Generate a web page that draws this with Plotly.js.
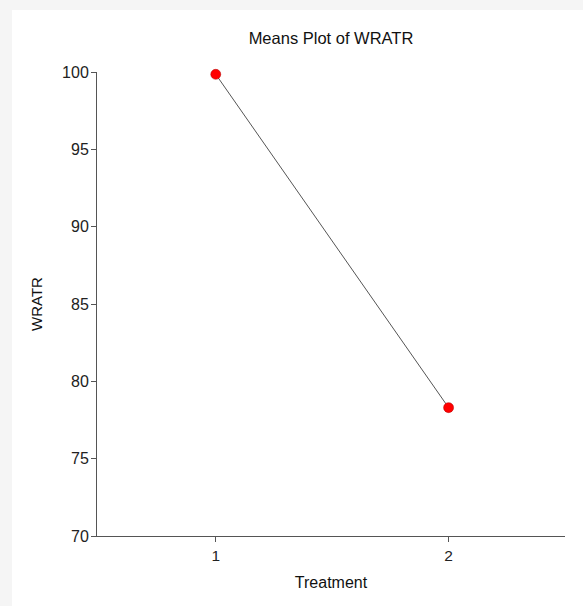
<!DOCTYPE html>
<html>
<head>
<meta charset="utf-8">
<script src="https://cdn.plot.ly/plotly-3.0.1.min.js"></script>
<style>html,body{margin:0;padding:0;background:#f5f5f5;}#chart{width:583px;height:606px;}</style>
</head>
<body>
<div id="chart"></div>
<script>
var treatments = [1, 2];
var means = [99.85, 78.3];
var xTickVals = [1, 2];
var xTickText = ['1', '2'];
var yTickVals = [70, 75, 80, 85, 90, 95, 100];

var W = 583, H = 606;
var mL = 97, mR = 18, mT = 72, mB = 70;
var pw = W - mL - mR, ph = H - mT - mB;
function px(x){ return (x - mL) / pw; }
function py(y){ return (H - mB - y) / ph; }

var trace = {
  x: treatments,
  y: means,
  type: 'scatter',
  mode: 'lines+markers',
  cliponaxis: false,
  line: {color: '#555555', width: 1},
  marker: {color: '#ff0000', size: 10, line: {color: '#b00000', width: 0.5}},
  hoverinfo: 'x+y'
};

var layout = {
  width: W, height: H,
  margin: {l: mL, r: mR, t: mT, b: mB, pad: 0},
  paper_bgcolor: '#f5f5f5',
  plot_bgcolor: 'rgba(0,0,0,0)',
  showlegend: false,
  font: {family: 'Liberation Sans, Arial, sans-serif', color: '#222', size: 16},
  title: {text: 'Means Plot of WRATR', font: {size: 16.5, color: '#111'}, xref: 'paper', x: 0.5, xanchor: 'center', yref: 'container', y: 1 - 38/H, yanchor: 'middle'},
  xaxis: {
    range: [0.49, 2.5],
    tickvals: xTickVals, ticktext: xTickText,
    showgrid: false, zeroline: false,
    showline: true, linecolor: '#555', linewidth: 1,
    ticks: 'outside', ticklen: 5, tickcolor: '#555', tickwidth: 1,
    tickfont: {size: 15.5, color: '#222'},
    title: {text: 'Treatment', font: {size: 16, color: '#111'}, standoff: 14}
  },
  yaxis: {
    range: [70, 100],
    tickvals: yTickVals,
    showgrid: false, zeroline: false,
    showline: true, linecolor: '#555', linewidth: 1,
    ticks: 'outside', ticklen: 5, tickcolor: '#555', tickwidth: 1,
    ticklabelstandoff: -1,
    tickfont: {size: 16, color: '#222'},
    title: {text: 'WRATR', font: {size: 15, color: '#111'}, standoff: 15}
  },
  shapes: [{
    type: 'rect', xref: 'paper', yref: 'paper', layer: 'below',
    x0: px(12), x1: px(W + 5), y0: py(H + 5), y1: py(10),
    fillcolor: '#ffffff', line: {width: 0}
  }]
};

Plotly.newPlot('chart', [trace], layout, {displayModeBar: false, staticPlot: true});
</script>
</body>
</html>
